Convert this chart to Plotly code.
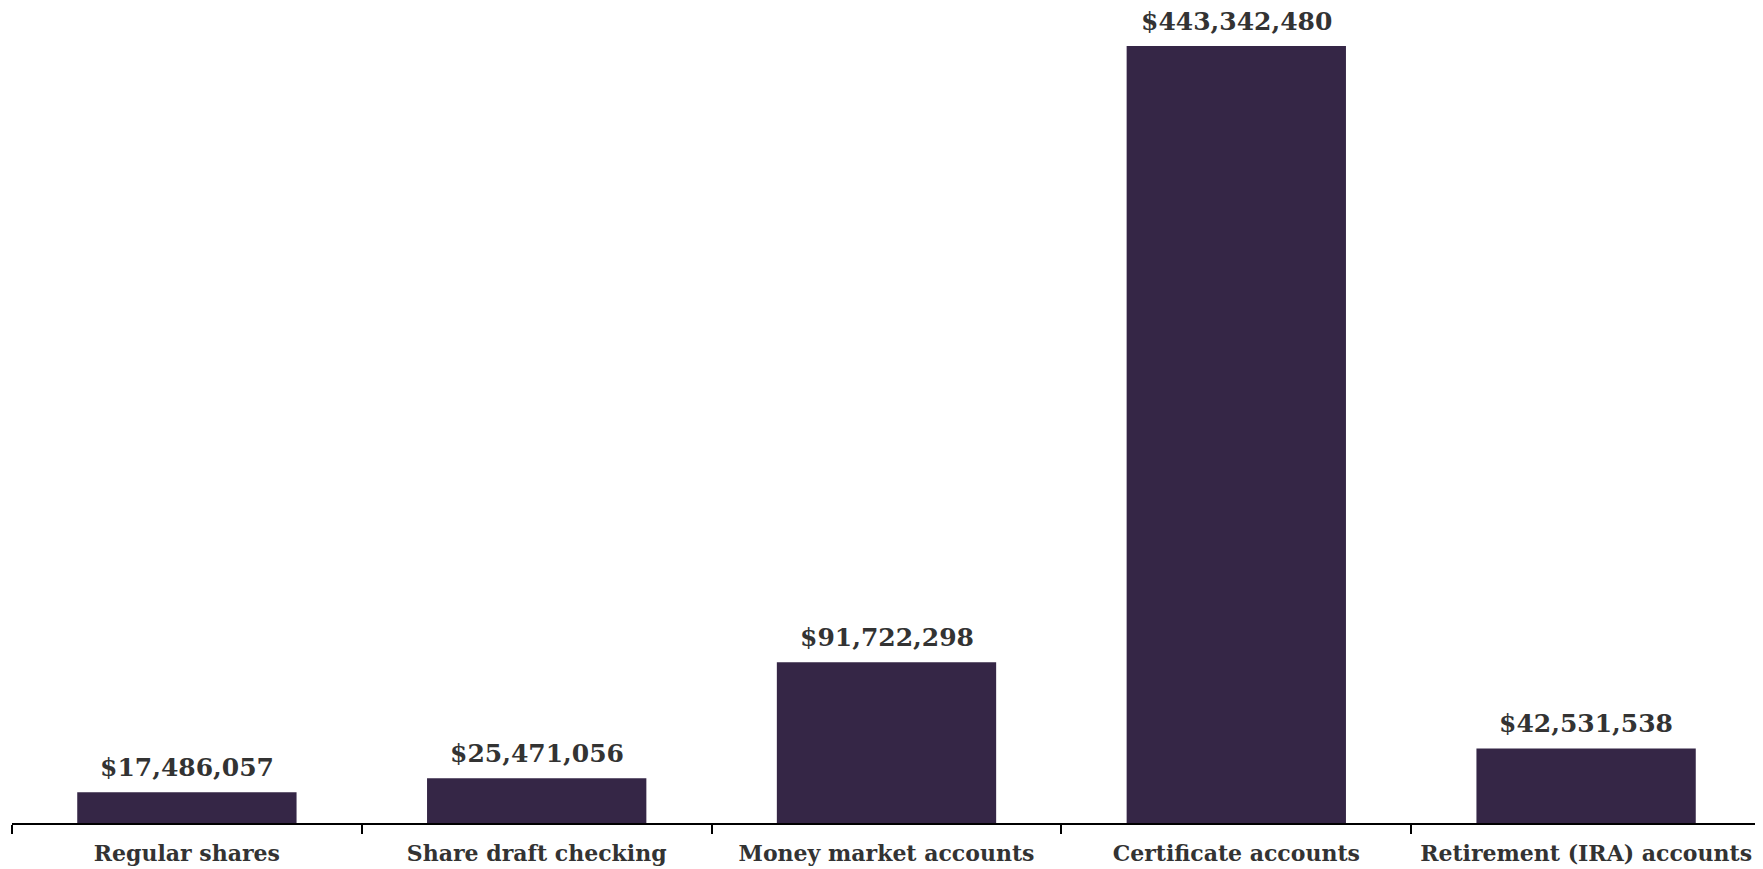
import plotly.graph_objects as go

categories = ["Regular shares", "Share draft checking", "Money market accounts",
              "Certificate accounts", "Retirement (IRA) accounts"]
values = [17486057, 25471056, 91722298, 443342480, 42531538]
labels = ["$17,486,057", "$25,471,056", "$91,722,298", "$443,342,480", "$42,531,538"]

FONT = "Georgia, 'DejaVu Serif', serif"

fig = go.Figure(go.Bar(
    x=categories, y=values,
    marker=dict(color="#352646", line=dict(width=0)),
    hoverinfo="skip",
))

for c, v, t in zip(categories, values, labels):
    fig.add_annotation(
        x=c, y=v, xref="x", yref="y", text=t, showarrow=False,
        yanchor="bottom", yshift=8,
        font=dict(family=FONT, size=25, color="#333333", weight="bold"),
    )

fig.update_layout(
    width=1763, height=869,
    margin=dict(l=4, r=10, t=38, b=54),
    paper_bgcolor="white", plot_bgcolor="white",
    bargap=0.373, showlegend=False,
    font=dict(family=FONT, color="#333333"),
)
fig.update_xaxes(
    showline=True, linecolor="#000000", linewidth=1.5,
    ticks="outside", tickson="boundaries", ticklen=9, tickcolor="#000000", tickwidth=1.5,
    tickfont=dict(family=FONT, size=22, color="#333333", weight="bold"),
    ticklabelstandoff=10,
    showgrid=False, zeroline=False, automargin=False,
)
fig.update_yaxes(visible=False, range=[0, 443342480], showgrid=False, zeroline=False)

fig.write_html("out.html")
